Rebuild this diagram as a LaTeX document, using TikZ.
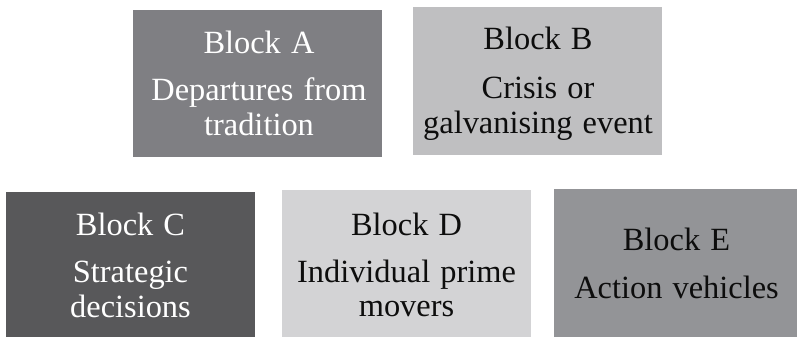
\documentclass[tikz,border=0pt]{standalone}
\usepackage{fontspec}
\setmainfont{Liberation Serif}[WordSpace={1.25}]
\definecolor{cA}{HTML}{7F7F83}
\definecolor{cB}{HTML}{BFBFC1}
\definecolor{cC}{HTML}{58585A}
\definecolor{cD}{HTML}{D3D3D5}
\definecolor{cE}{HTML}{939497}
\begin{document}
\begin{tikzpicture}[x=1pt,y=-1pt,
  blockbox/.style={rectangle,draw=none,inner sep=0pt,outer sep=0pt},
  txt/.style={anchor=base,inner sep=0pt,font=\fontsize{32.4}{35}\selectfont},
  light/.style={txt,text=white},
  darktxt/.style={txt,text=black!95}]
\useasboundingbox (0,0) rectangle (797,337);
% boxes
\node[blockbox,fill=cA,minimum width=249pt,minimum height=147pt] (A) at (257.5,83.5) {};
\node[blockbox,fill=cB,minimum width=249pt,minimum height=148pt] (B) at (537.5,81) {};
\node[blockbox,fill=cC,minimum width=249pt,minimum height=145pt] (C) at (130.5,264.5) {};
\node[blockbox,fill=cD,minimum width=249pt,minimum height=147pt] (D) at (406.5,263.5) {};
\node[blockbox,fill=cE,minimum width=243pt,minimum height=148pt] (E) at (675.5,263) {};
% texts
\node[light] (A1) at (259,53) {Block A};
\node[light] (A2) at (259,100) {Departures from};
\node[light] (A3) at (259,135) {tradition};
\node[darktxt] (B1) at (538,50) {Block B};
\node[darktxt] (B2) at (538,98) {Crisis or};
\node[darktxt] (B3) at (538,133) {galvanising event};
\node[light] (C1) at (130.5,235) {Block C};
\node[light] (C2) at (130.5,282) {Strategic};
\node[light] (C3) at (130.5,317) {decisions};
\node[darktxt] (D1) at (406.5,235) {Block D};
\node[darktxt] (D2) at (406.5,282) {Individual prime};
\node[darktxt] (D3) at (406.5,316) {movers};
\node[darktxt] (E1) at (676.5,250) {Block E};
\node[darktxt] (E2) at (676.5,298) {Action vehicles};
\end{tikzpicture}
\end{document}
